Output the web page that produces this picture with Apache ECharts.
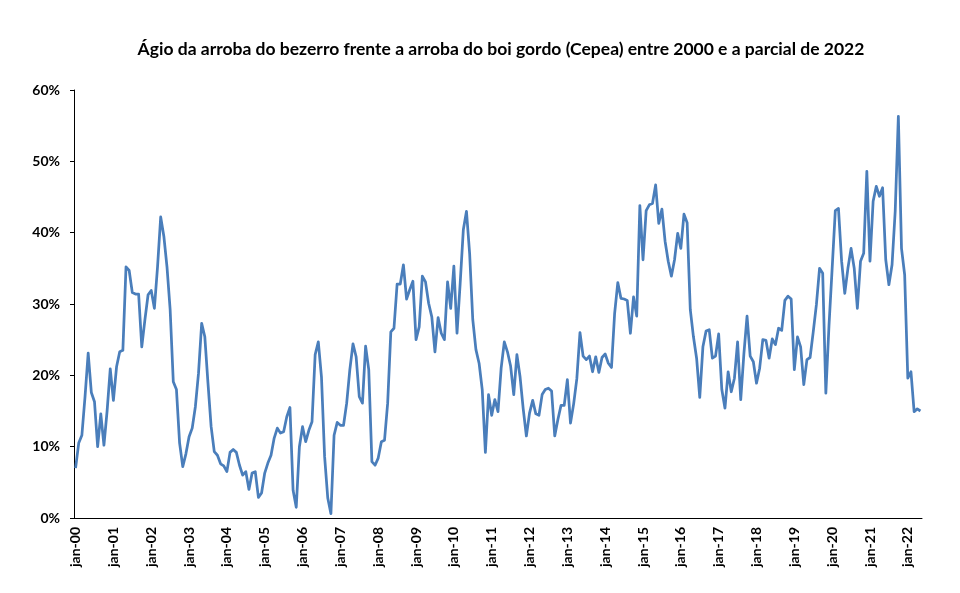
<!DOCTYPE html>
<html>
<head>
<meta charset="utf-8">
<script src="https://cdn.jsdelivr.net/npm/echarts@6/dist/echarts.min.js"></script>
<style>
html,body{margin:0;padding:0;background:#fff;}
#chart{width:960px;height:593px;}
</style>
</head>
<body>
<div id="chart"></div>
<script>
// Month names (Portuguese) and years used for the category labels
const monthNames = ['jan','fev','mar','abr','mai','jun','jul','ago','set','out','nov','dez'];
const years = ['00','01','02','03','04','05','06','07','08','09','10','11','12','13','14','15','16','17','18','19','20','21','22'];

// Ágio (%) per month, by year
const v2000 = [7.0,10.5,11.6,17.0,23.1,17.6,16.3,10.0,14.6,10.2,15.0,20.9];
const v2001 = [16.5,21.2,23.3,23.5,35.2,34.7,31.6,31.4,31.4,24.0,27.8,31.3];
const v2002 = [31.9,29.4,35.2,42.2,39.5,35.2,29.2,19.1,18.0,10.5,7.2,9.0];
const v2003 = [11.4,12.6,15.6,20.3,27.3,25.4,18.9,12.8,9.3,8.8,7.6,7.3];
const v2004 = [6.5,9.2,9.6,9.2,7.4,6.0,6.5,4.0,6.3,6.5,2.9,3.5];
const v2005 = [6.3,7.7,8.8,11.2,12.6,11.9,12.1,14.2,15.5,3.9,1.5,10.0];
const v2006 = [12.8,10.7,12.3,13.5,22.9,24.7,19.8,8.6,2.8,0.6,11.6,13.4];
const v2007 = [13.0,13.0,16.1,20.8,24.4,22.6,17.0,16.1,24.1,20.8,7.9,7.4];
const v2008 = [8.4,10.7,10.9,16.1,26.1,26.6,32.8,32.8,35.5,30.7,32.0,33.2];
const v2009 = [25.0,26.8,33.9,33.1,30.1,28.2,23.3,28.1,25.9,25.0,33.1,29.4];
const v2010 = [35.3,25.9,32.9,40.4,43.0,37.1,27.8,23.6,21.7,18.0,9.2,17.3];
const v2011 = [14.4,16.6,14.9,21.0,24.7,23.3,21.3,17.3,22.9,19.8,15.3,11.5];
const v2012 = [14.7,16.5,14.6,14.4,17.3,18.0,18.2,17.8,11.5,13.8,15.8,15.8];
const v2013 = [19.4,13.3,16.0,19.5,26.0,22.7,22.2,22.7,20.5,22.6,20.4,22.5];
const v2014 = [23.0,21.7,21.1,28.7,33.0,30.8,30.7,30.5,25.9,31.0,28.3,43.8];
const v2015 = [36.2,43.1,43.9,44.1,46.7,41.3,43.3,38.8,36.0,33.9,36.2,39.9];
const v2016 = [37.8,42.6,41.4,29.2,25.4,22.4,16.9,24.0,26.2,26.4,22.4,22.7];
const v2017 = [25.8,18.0,15.4,20.5,17.7,19.6,24.7,16.6,23.0,28.3,22.7,21.9];
const v2018 = [18.9,21.0,25.0,24.9,22.4,25.1,24.3,26.6,26.3,30.5,31.1,30.7];
const v2019 = [20.8,25.4,24.0,18.7,22.2,22.5,26.1,29.9,35.0,34.3,17.5,27.0];
const v2020 = [35.0,43.1,43.4,36.0,31.5,35.0,37.8,35.0,29.4,36.0,37.1,48.6];
const v2021 = [36.0,44.4,46.5,45.1,46.3,36.2,32.7,35.5,43.0,56.3,37.8,34.1];
const v2022 = [19.6,20.5,14.9,15.3,15.0];

const values = [].concat(v2000,v2001,v2002,v2003,v2004,v2005,v2006,v2007,v2008,v2009,v2010,
  v2011,v2012,v2013,v2014,v2015,v2016,v2017,v2018,v2019,v2020,v2021,v2022);

const categories = [];
for (let y = 0; y < years.length && categories.length < values.length; y++) {
  for (let m = 0; m < 12 && categories.length < values.length; m++) {
    categories.push(monthNames[m] + '-' + years[y]);
  }
}

const yTicks = [0, 10, 20, 30, 40, 50, 60];

const chart = echarts.init(document.getElementById('chart'), null, {renderer: 'canvas'});
chart.setOption({
  animation: false,
  backgroundColor: '#ffffff',
  title: {
    text: 'Ágio da arroba do bezerro frente a arroba do boi gordo (Cepea) entre 2000 e a parcial de 2022',
    left: 496,
    top: 35,
    textAlign: 'center',
    textStyle: {fontFamily: 'Lato', fontWeight: 'bold', fontSize: 17.5, color: '#000'}
  },
  grid: {left: 74, right: 38, top: 90, bottom: 75, containLabel: false},
  xAxis: {
    type: 'category',
    data: categories,
    boundaryGap: true,
    axisLine: {show: true, lineStyle: {color: '#000', width: 1}},
    axisTick: {show: false},
    axisLabel: {
      interval: function (index) { return index % 12 === 0; },
      rotate: 90,
      margin: 9,
      fontFamily: 'Lato',
      fontWeight: 'bold',
      fontSize: 14,
      color: '#000'
    },
    splitLine: {show: false}
  },
  yAxis: {
    type: 'value',
    min: yTicks[0],
    max: yTicks[yTicks.length - 1],
    interval: 10,
    axisLine: {show: true, lineStyle: {color: '#000', width: 1}},
    axisTick: {show: true, inside: false, length: 4, lineStyle: {color: '#000'}},
    axisLabel: {
      formatter: '{value}%',
      margin: 14,
      fontFamily: 'Lato',
      fontWeight: 'bold',
      fontSize: 14,
      color: '#000'
    },
    splitLine: {show: false}
  },
  series: [{
    type: 'line',
    data: values,
    showSymbol: false,
    symbol: 'none',
    lineStyle: {color: '#4A7EBB', width: 2.75, join: 'round'},
    itemStyle: {color: '#4A7EBB'}
  }]
});
</script>
</body>
</html>
